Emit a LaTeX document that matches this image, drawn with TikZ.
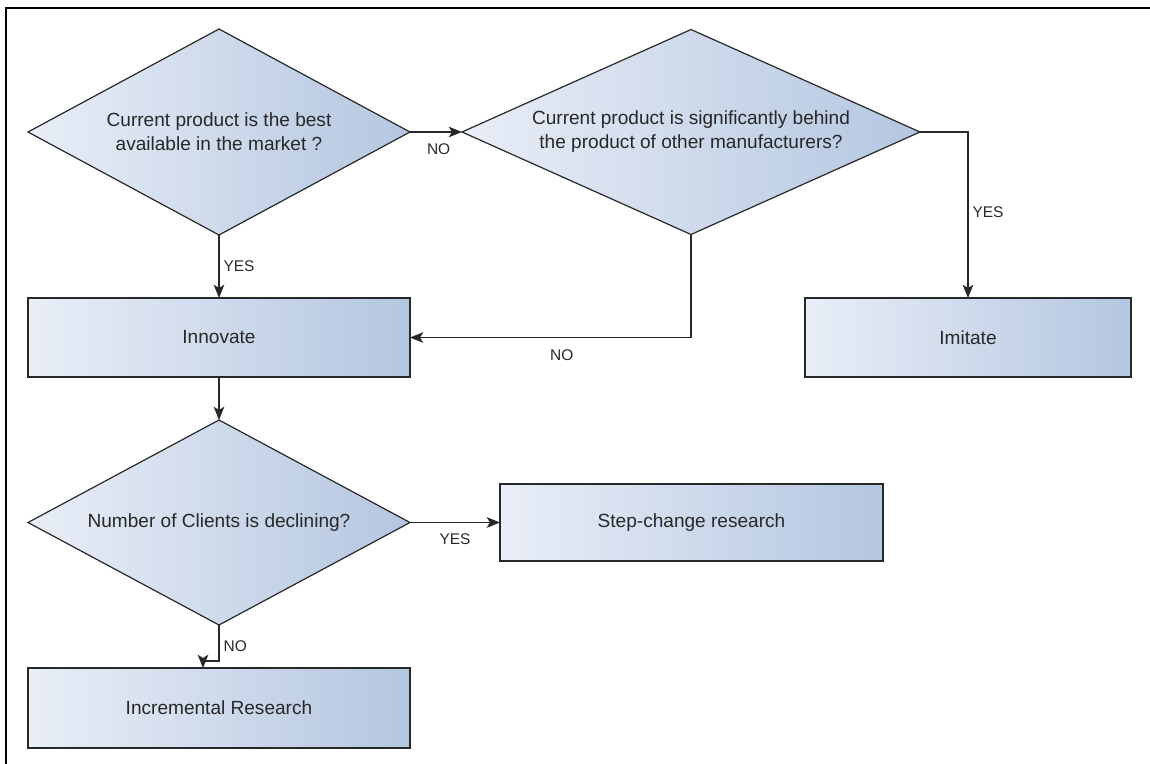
\documentclass[tikz,border=0pt]{standalone}
\usepackage{fontspec}
\setmainfont{Liberation Sans}
\usetikzlibrary{shapes.geometric,arrows.meta}
\definecolor{fillL}{RGB}{233,238,247}
\definecolor{fillR}{RGB}{180,198,224}
\definecolor{ink}{RGB}{40,40,40}
\tikzset{
  base/.style={draw=ink, line width=0.9pt, inner sep=0pt, outer sep=0pt,
    left color=fillL, right color=fillR, text=ink, align=center,
    font=\fontsize{14.3}{18}\selectfont},
  decision/.style={base, diamond},
  process/.style={base, rectangle},
  link/.style={draw=ink, line width=0.9pt, -{Stealth[length=10pt,width=8pt,inset=2.5pt]}},
  lbl/.style={text=ink, font=\fontsize{11.6}{14}\selectfont, inner sep=3pt},
  frame/.style={line width=1.6pt, draw=black}
}
\begin{document}
\begin{tikzpicture}[x=0.75pt,y=-0.75pt]
\useasboundingbox (0,0) rectangle (1150,764);
% outer frame
\draw[frame] (6,764) -- (6,8) -- (1150,8);

% decisions
\node[decision, shape aspect=1.854, minimum width=286.5pt, minimum height=154.5pt] (best) at (219,132)
  {Current product is the best\\available in the market ?};
\node[decision, shape aspect=2.234, minimum width=343.5pt, minimum height=153.75pt] (behind) at (691,132)
  {Current product is significantly behind\\the product of other manufacturers?};
\node[decision, shape aspect=1.863, minimum width=286.5pt, minimum height=153.75pt] (decl) at (219,522.5)
  {Number of Clients is declining?};

% processes
\node[process, minimum width=286.5pt, minimum height=59.25pt] (innov) at (219,337.5) {Innovate};
\node[process, minimum width=244.5pt, minimum height=59.25pt] (imit) at (968,337.5) {Imitate};
\node[process, minimum width=287.25pt, minimum height=57.75pt] (step) at (691.5,522.5) {Step-change research};
\node[process, minimum width=286.5pt, minimum height=60pt] (incr) at (219,708) {Incremental Research};

% connectors
\draw[link] (best.east) -- node[lbl, below, pos=0.55, yshift=-5pt] {NO} (behind.west);
\draw[link] (best.south) -- node[lbl, right, pos=0.5] {YES} (innov.north);
\draw[link] (behind.south) |- node[lbl, below, pos=0.73, yshift=-6pt] {NO} (innov.east);
\draw[link] (behind.east) -| node[lbl, right, pos=0.74] {YES} (imit.north);
\draw[link] (innov.south) -- (decl.north);
\draw[link] (decl.east) -- node[lbl, below, pos=0.5, yshift=-5pt] {YES} (step.west);
\coordinate (jog) at (203,661);
\draw[link] (decl.south) |- node[lbl, right, pos=0.3] {NO} (jog) -- (jog |- incr.north);
\end{tikzpicture}
\end{document}
